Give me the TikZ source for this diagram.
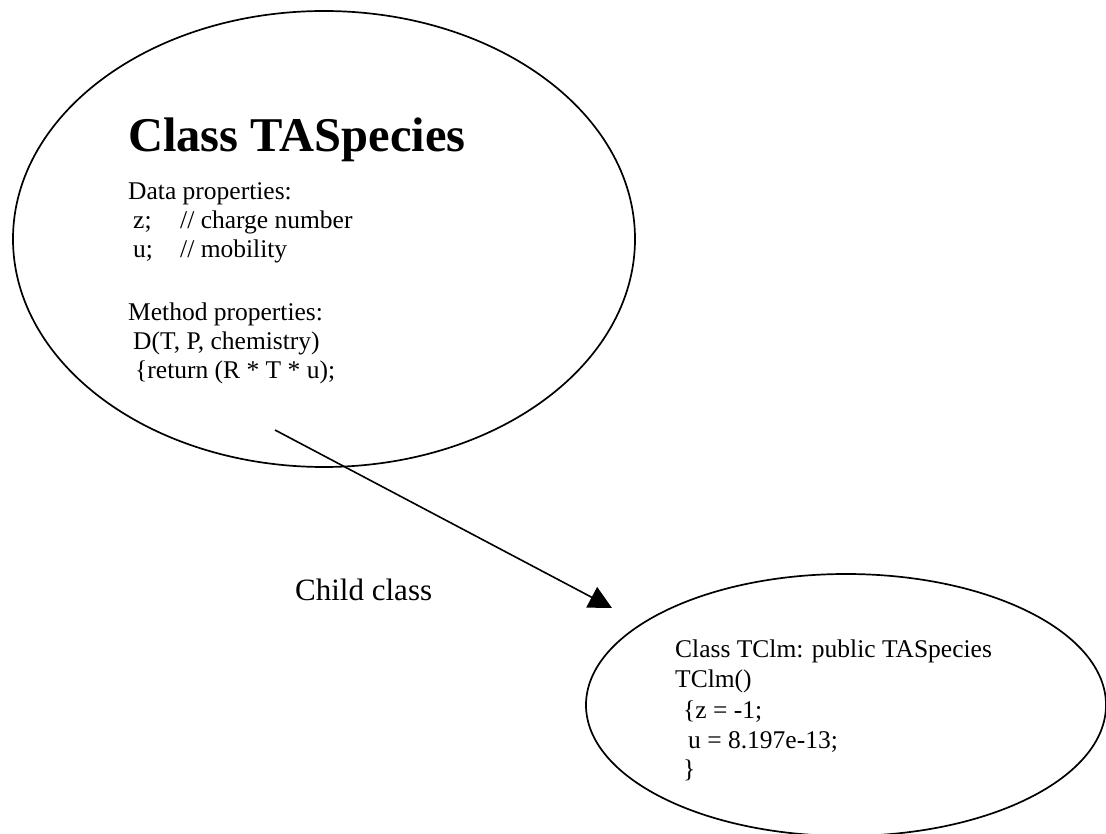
\documentclass[tikz,border=0pt]{standalone}
\usepackage{fontspec}
\setmainfont{Liberation Serif}
\usetikzlibrary{arrows.meta}
\usetikzlibrary{shapes.geometric}

\tikzset{
  classbody/.style={draw, ellipse, line width=1.7pt, inner sep=0pt},
  codeline/.style={anchor=base west, inner sep=0pt, font=\fontsize{25.5}{30}\selectfont},
  inherit/.style={line width=1.6pt, -{Triangle[length=23pt,width=23pt]}},
}

\begin{document}
\begin{tikzpicture}[x=1pt,y=-1pt]
\clip (0,0) rectangle (1106,834);

% the two classes
\node[classbody, minimum width=622pt, minimum height=456pt] (base) at (324,239) {};
\node[classbody, minimum width=520pt, minimum height=262pt] (child) at (846,705) {};

% parent class text
\node[codeline, font=\fontsize{48.5}{50}\selectfont\bfseries] (basetitle) at (128,152) {Class TASpecies};
\node[codeline] (dataprop) at (128,200) {Data properties:};
\node[codeline] (zvar) at (133,229) {z;};
\node[codeline] (zcom) at (180,229) {// charge number};
\node[codeline] (uvar) at (133,258) {u;};
\node[codeline] (ucom) at (180,258) {// mobility};
\node[codeline] (methprop) at (128,321) {Method properties:};
\node[codeline] (dfun) at (133,350) {D(T, P, chemistry)};
\node[codeline] (dret) at (135,378) {\{return (R * T * u);};

% child class text
\node[codeline] (childtitle) at (675,657) {Class TClm: public TASpecies};
\node[codeline] (ctor) at (675,687) {TClm()};
\node[codeline] (zset) at (683,718) {\{z = -1;};
\node[codeline] (uset) at (688,748) {u = 8.197e-13;};
\node[codeline] (cend) at (683,777) {\}};

% inheritance arrow
\coordinate (from) at (275,430);
\coordinate (to) at (612,608);
\draw[inherit] (from) -- (to);
\node[codeline, font=\fontsize{31}{34}\selectfont] (childlbl) at (295,600) {Child class};
\end{tikzpicture}
\end{document}
